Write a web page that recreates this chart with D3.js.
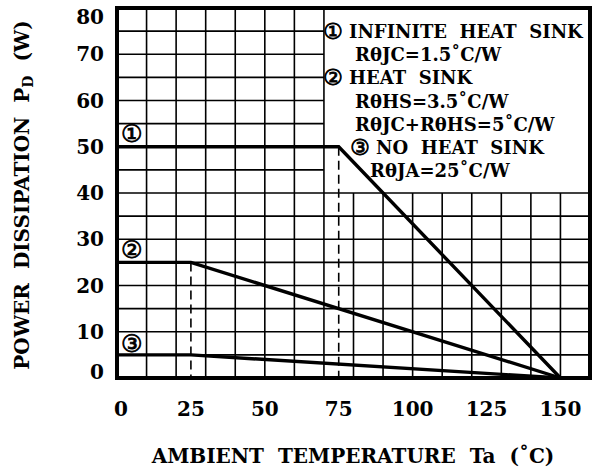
<!DOCTYPE html>
<html><head><meta charset="utf-8">
<script src="https://cdn.jsdelivr.net/npm/d3@7"></script>
<style>body{margin:0;background:#fff}svg{display:block}</style>
</head><body>
<script>
// ---- data ----
const xTicks = [0, 25, 50, 75, 100, 125, 150];
const yTicks = [0, 10, 20, 30, 40, 50, 60, 70, 80];
const xGrid = [10,20,30,40,50,60,70,80,90,100,110,120,130,140,150];
const yGrid = [5,10,15,20,25,30,35,40,45,50,55,60,65,70,75];
const curve1 = [[0,50],[75,50],[150,0]];
const curve2 = [[0,25],[25,25],[150,0]];
const curve3 = [[0,5],[25,5],[150,0]];
const dashedLines = [[25,25],[75,50]];
const curveLabels = [["①",5,52.8],["②",5,27.6],["③",5,7.4]];
const legendLines = [
  ["①", " INFINITE  HEAT  SINK", 0],
  ["", "RθJC=1.5˚C/W", 1],
  ["②", " HEAT  SINK", 0],
  ["", "RθHS=3.5˚C/W", 1],
  ["", "RθJC+RθHS=5˚C/W", 1],
  ["③", " NO  HEAT  SINK", 2],
  ["", "RθJA=25˚C/W", 3]
];
const legendRegion = {x0:70, x1:160, y0:40, y1:80};

const W = 602, H = 470;
const svg = d3.select("body").append("svg").attr("width", W).attr("height", H);
svg.append("rect").attr("width", W).attr("height", H).attr("fill", "#fff");

const x = d3.scaleLinear().domain([0,160]).range([117,590]);
const y = d3.scaleLinear().domain([0,80]).range([378,8]);
const font = "'DejaVu Serif', 'Liberation Serif', serif";
const circFont = "'DejaVu Sans', 'Noto Sans CJK JP', sans-serif";

// grid
const g = svg.append("g").attr("stroke", "#000").attr("stroke-width", 1.6);
xGrid.forEach(v => {
  g.append("line").attr("x1", x(v)).attr("x2", x(v))
    .attr("y1", y(0)).attr("y2", v > legendRegion.x0 ? y(legendRegion.y0) : y(80));
});
yGrid.forEach(v => {
  g.append("line").attr("y1", y(v)).attr("y2", y(v))
    .attr("x1", x(0)).attr("x2", v > legendRegion.y0 ? x(legendRegion.x0) : x(160));
});

// dashed
dashedLines.forEach(([vx, vy]) => {
  svg.append("line").attr("x1", x(vx)).attr("x2", x(vx)).attr("y1", y(vy)).attr("y2", y(0))
    .attr("stroke", "#000").attr("stroke-width", 1.6).attr("stroke-dasharray", "9,5");
});

// curves
const line = d3.line().x(d => x(d[0])).y(d => y(d[1]));
[curve1, curve2, curve3].forEach(c => {
  svg.append("path").attr("d", line(c)).attr("fill", "none")
    .attr("stroke", "#000").attr("stroke-width", 3.4).attr("stroke-linejoin", "miter");
});

// frame
svg.append("rect").attr("x", x(0)).attr("y", y(80)).attr("width", x(160)-x(0)).attr("height", y(0)-y(80))
  .attr("fill", "none").attr("stroke", "#000").attr("stroke-width", 4);

// curve labels
curveLabels.forEach(([t, vx, vy]) => {
  svg.append("text").attr("x", x(vx)).attr("y", y(vy)).attr("text-anchor", "middle")
    .attr("dominant-baseline", "central").attr("font-family", circFont).attr("font-size", 24)
    .attr("stroke", "#000").attr("stroke-width", 0.8)
    .text(t);
});

// x tick labels
xTicks.forEach(v => {
  svg.append("text").attr("x", x(v) + (v === 0 ? 4 : 0)).attr("y", 416).attr("text-anchor", "middle")
    .attr("font-family", font).attr("font-size", 20).attr("font-weight", "bold").text(v);
});
// y tick labels
yTicks.forEach(v => {
  const yy = Math.max(y(80) + 9, Math.min(y(0) - 6, y(v)));
  svg.append("text").attr("x", 104).attr("y", yy).attr("text-anchor", "end")
    .attr("dominant-baseline", "central")
    .attr("font-family", font).attr("font-size", 20).attr("font-weight", "bold").text(v);
});

// axis titles
svg.append("text").attr("x", 353).attr("y", 463).attr("text-anchor", "middle")
  .attr("font-family", font).attr("font-size", 20).attr("font-weight", "bold")
  .style("white-space", "pre")
  .text("AMBIENT  TEMPERATURE  Ta  (˚C)");

const yt = svg.append("text").attr("transform", "translate(29,195) rotate(-90)")
  .attr("text-anchor", "middle").attr("font-family", font).attr("font-size", 20)
  .attr("font-weight", "bold").style("white-space", "pre");
yt.append("tspan").text("POWER  DISSIPATION  P");
yt.append("tspan").attr("font-size", 14).attr("dy", 4).text("D");
yt.append("tspan").attr("dy", -4).text("  (W)");

// legend
const indents = [323, 355, 350, 370];
legendLines.forEach(([c, t, ind], i) => {
  const tx = svg.append("text").attr("x", indents[ind]).attr("y", y(75 - 5*i)).attr("dominant-baseline", "central")
    .attr("font-family", font).attr("font-size", 18).attr("font-weight", "bold")
    .style("white-space", "pre");
  if (c) tx.append("tspan").attr("font-family", circFont).attr("font-weight", "normal").attr("font-size", 22)
    .attr("stroke", "#000").attr("stroke-width", 0.8).text(c);
  tx.append("tspan").text(t);
});
</script>
</body></html>
